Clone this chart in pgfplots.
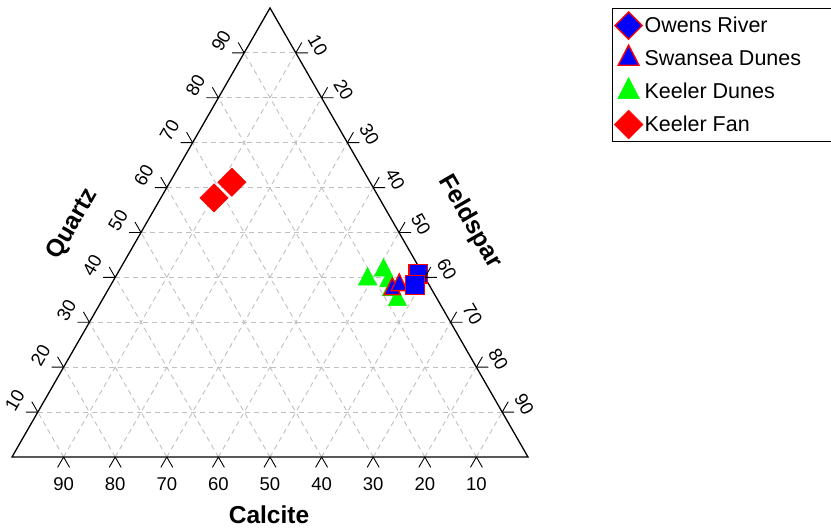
\documentclass[border=0pt]{standalone}
\usepackage{fontspec}
\setmainfont{Liberation Sans}
\usepackage{pgfplots}
\usepackage{pgfplotstable}
\pgfplotsset{compat=1.18}
\definecolor{gridgray}{RGB}{192,192,192}
\definecolor{pblue}{RGB}{0,0,255}
\definecolor{pred}{RGB}{255,0,0}
\definecolor{pgreen}{RGB}{0,255,0}

\pgfplotstableread{
Calcite Quartz Feldspar
0.9  40.8 58.3
2.75 38.3 58.95
}\owens
\pgfplotstableread{
Calcite Quartz Feldspar
7.6 37.4 55.0
5.8 38.3 55.9
}\swansea
\pgfplotstableread{
Calcite Quartz Feldspar
11.3 39.6 49.1
7.2 41.6 51.2
7.4 39.2 53.4
7.9 37.2 54.9
7.8 35.0 57.2
}\keelerdunes
\pgfplotstableread{
Calcite Quartz Feldspar
32.0 57.7 10.3
26.8 61.2 12.0
}\keelerfan

\pgfplotsset{myleg/.style={legend image code/.code={\path[draw=none,fill=none] (-16pt,-16.5pt) rectangle (16pt,16.5pt); \draw[##1] plot coordinates {(0pt,0pt)};}}}
\newcommand\tickfont{\fontsize{18.5}{20}\selectfont}
\newcommand\titlefont{\bfseries\fontsize{24.5}{28}\selectfont}

\begin{document}
\begin{tikzpicture}[x=5.16pt,y=5.185pt]
% grid
\begin{scope}[draw=gridgray, line width=0.9pt, dash pattern=on 5pt off 4pt]
\foreach \v in {10,20,...,90}{
  \draw ({\v/2},{0.8660254*\v}) -- ({100-\v/2},{0.8660254*\v});
  \draw (\v,0) -- ({50+\v/2},{0.8660254*(100-\v)});
  \draw (\v,0) -- ({\v/2},{0.8660254*\v});
}
\end{scope}
% frame
\draw[line width=1.3pt, line join=miter] (0,0) -- (100,0) -- (50,86.60254) -- cycle;

\begin{axis}[x=5.16pt, y=5.185pt, xmin=0, xmax=100, ymin=0, ymax=86.60254,
  enlargelimits=false, hide axis, clip=false, anchor=south west, at={(0,0)},
  legend style={at={(1.1628,1.0)}, anchor=north west, draw=black, line width=1.2pt, fill=white,
    inner xsep=0pt, inner ysep=0.5pt, row sep=0pt, column sep=0pt,
    font=\fontsize{21.5}{24}\selectfont, cells={anchor=west}, nodes={inner sep=0pt, draw=none}}]
\addplot[forget plot, only marks, mark=square*, mark size=10pt,
  mark options={rotate=45, fill=pred, draw=pred, line width=0.5pt}]
  table[x expr=\thisrow{Feldspar}+0.5*\thisrow{Quartz}, y expr=0.8660254*\thisrow{Quartz}] {\keelerfan};
\addplot[forget plot, only marks, mark=triangle*, mark size=10.5pt,
  mark options={yscale=1.12, fill=pgreen, draw=pgreen, line width=0.5pt}]
  table[x expr=\thisrow{Feldspar}+0.5*\thisrow{Quartz}, y expr=0.8660254*\thisrow{Quartz}] {\keelerdunes};
\addplot[forget plot, only marks, mark=triangle*, mark size=9.3pt,
  mark options={yscale=1.2, fill=pblue, draw=pred, line width=1.3pt}]
  table[x expr=\thisrow{Feldspar}+0.5*\thisrow{Quartz}, y expr=0.8660254*\thisrow{Quartz}] {\swansea};
\addplot[forget plot, only marks, mark=square*, mark size=9.3pt,
  mark options={fill=pblue, draw=pred, line width=1.5pt}]
  table[x expr=\thisrow{Feldspar}+0.5*\thisrow{Quartz}, y expr=0.8660254*\thisrow{Quartz}] {\owens};

\addlegendimage{mark=square*, mark size=9.6pt, mark options={rotate=45, fill=pblue, draw=pred, line width=1.4pt}, myleg}
\addlegendentry{\makebox[190pt][l]{Owens River}}
\addlegendimage{mark=triangle*, mark size=12pt, mark options={yscale=1.12, fill=pblue, draw=pred, line width=1.4pt}, myleg}
\addlegendentry{Swansea Dunes}
\addlegendimage{mark=triangle*, mark size=12.5pt, mark options={yscale=1.12, fill=pgreen, draw=pgreen, line width=0.5pt}, myleg}
\addlegendentry{Keeler Dunes}
\addlegendimage{mark=square*, mark size=10.2pt, mark options={rotate=45, fill=pred, draw=pred, line width=0.5pt}, myleg}
\addlegendentry{Keeler Fan}
\end{axis}

% ticks and tick labels
\foreach \v in {10,20,...,90}{
  % bottom: Calcite
  \draw[line width=0.9pt] ({100-\v},0) -- ++(-6pt,-10.4pt) ({100-\v},0) -- ++(6pt,-10.4pt);
  \path ({100-\v},0) ++(0pt,-26.7pt) node[font=\tickfont, inner sep=0pt] {\v};
  % left: Quartz
  \draw[line width=0.9pt] ({\v/2},{0.8660254*\v}) -- ++(-12pt,0pt) ({\v/2},{0.8660254*\v}) -- ++(-6pt,10.4pt);
  \path ({\v/2},{0.8660254*\v}) ++(-23pt,12pt) node[font=\tickfont, inner sep=0pt, rotate=60] {\v};
  % right: Feldspar
  \draw[line width=0.9pt] ({50+\v/2},{0.8660254*(100-\v)}) -- ++(12pt,0pt) ({50+\v/2},{0.8660254*(100-\v)}) -- ++(6pt,10.4pt);
  \path ({50+\v/2},{0.8660254*(100-\v)}) ++(22pt,8pt) node[font=\tickfont, inner sep=0pt, rotate=-60] {\v};
}
% titles
\node[font=\titlefont, inner sep=0pt] at (257pt,-58pt) {Calcite};
\node[font=\titlefont, inner sep=0pt, rotate=60] at (61pt,233pt) {Quartz};
\node[font=\titlefont, inner sep=0pt, rotate=-60] at (458pt,235pt) {Feldspar};

\pgfresetboundingbox
\path (-12pt,-74pt) rectangle (819pt,457pt);
\end{tikzpicture}
\end{document}
